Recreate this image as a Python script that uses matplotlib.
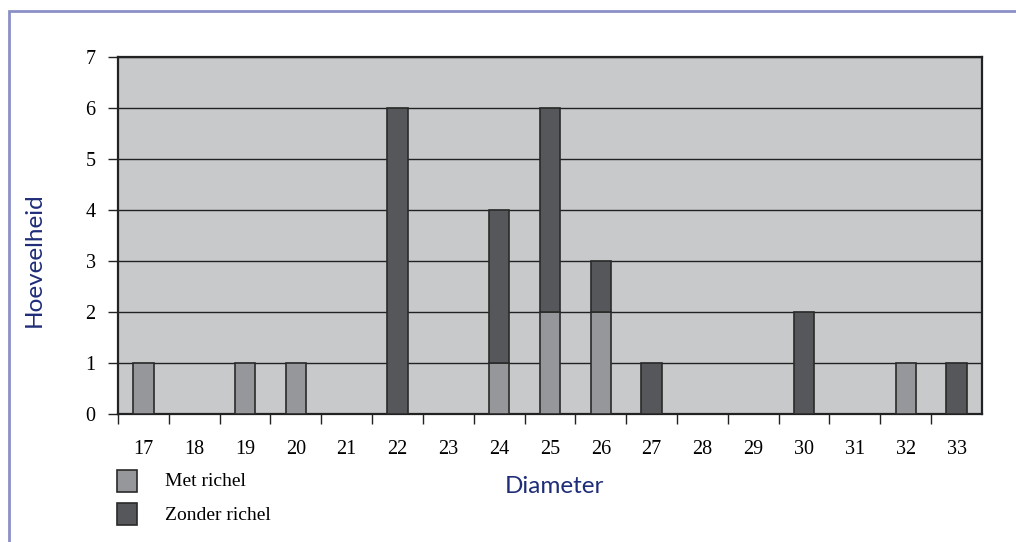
import matplotlib.pyplot as plt
import numpy as np
from matplotlib.patches import Rectangle

diameters = ["17", "18", "19", "20", "21", "22", "23", "24", "25", "26", "27", "28", "29", "30", "31", "32", "33"]
met_richel = [1, 0, 1, 1, 0, 0, 0, 1, 2, 2, 0, 0, 0, 0, 0, 1, 0]
zonder_richel = [0, 0, 0, 0, 0, 6, 0, 3, 4, 1, 1, 0, 0, 2, 0, 0, 1]

light = "#96979a"
dark = "#56575a"
edge = "#2a2a2a"
blue = "#1f2d78"

fig = plt.figure(figsize=(10.16, 5.42), dpi=100)
ax = fig.add_axes([0.1161, 0.2362, 0.8504, 0.6587])

x = np.arange(len(diameters))
m = np.array(met_richel)
z = np.array(zonder_richel)
ax.bar(x[m > 0], m[m > 0], width=0.4, color=light, edgecolor=edge, linewidth=1.2, zorder=3)
ax.bar(x[z > 0], z[z > 0], width=0.4, bottom=m[z > 0], color=dark, edgecolor=edge, linewidth=1.2, zorder=3)

ax.set_facecolor("#c8c9cb")
ax.set_xlim(-0.5, len(diameters) - 0.5)
ax.set_ylim(0, 7)
ax.set_yticks(range(8))
ax.yaxis.grid(True, color="#222222", linewidth=1.0, zorder=1)
ax.set_axisbelow(True)
for s in ax.spines.values():
    s.set_color("#222222")
    s.set_linewidth(1.6)

ax.set_xticks(x - 0.5, minor=False)
ax.set_xticklabels([])
ax.set_xticks(x, minor=True)
ax.set_xticklabels(diameters, minor=True)
ax.tick_params(axis="x", which="minor", length=0, pad=19)
ax.tick_params(axis="x", which="major", length=7, color="#222222", width=1)
ax.tick_params(axis="y", length=7, color="#222222", width=1, pad=9)
for lab in ax.get_xticklabels(minor=True) + ax.get_yticklabels():
    lab.set_fontfamily("Liberation Serif")
    lab.set_fontsize(14.5)

fig.text(0.034, 0.52, "Hoeveelheid", rotation=90, ha="center", va="center",
         color=blue, fontsize=17.5, family="Lato")
fig.text(0.546, 0.103, "Diameter", ha="center", va="center",
         color=blue, fontsize=17.5, family="Lato")

# legend
for i, (lab, col) in enumerate([("Met richel", light), ("Zonder richel", dark)]):
    yb = 1 - (492 + i * 33) / 542
    fig.patches.append(Rectangle((117 / 1016, yb), 20 / 1016, 22 / 542, transform=fig.transFigure,
                                 facecolor=col, edgecolor=edge, linewidth=1.2))
    fig.text(165 / 1016, yb + 10 / 542, lab, va="center", ha="left",
             fontsize=14, family="Liberation Serif")

# frame
fig.patches.append(Rectangle((8.5 / 1016, -0.1), 1.2, 1 - 11 / 542 + 0.1, transform=fig.transFigure,
                             facecolor="none", edgecolor="#8b91c6", linewidth=2))

fig.savefig("out.png", dpi=100)
